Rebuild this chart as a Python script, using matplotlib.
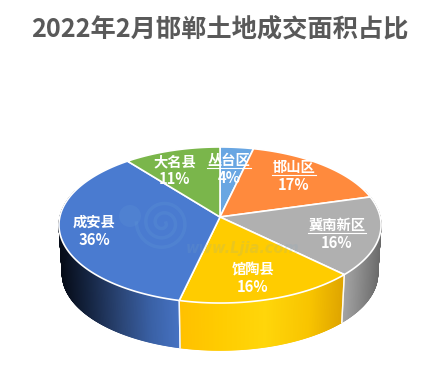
import numpy as np
import matplotlib
matplotlib.use('Agg')
import matplotlib.pyplot as plt
from matplotlib.collections import PolyCollection
from matplotlib.colors import to_rgb
from matplotlib.patches import Polygon

plt.rcParams['font.family'] = ['Noto Sans CJK SC', 'DejaVu Sans']

TITLE = '2022年2月邯郸土地成交面积占比'
categories = ['丛台区', '邯山区', '冀南新区', '馆陶县', '成安县', '大名县']
values = [3.7, 17.0, 16.49, 16.49, 35.6, 10.72]
top_colors = ['#69A6E2', '#FF8A3D', '#B0B0B0', '#FFCC00', '#4A7BD0', '#7AB64B']
# side shading: horizontal colour stops (pixel x, colour)
side_stops = [
    [(220, '#3A6A9A'), (253, '#3A6A9A')],
    [(253, '#A85A20'), (368, '#A85A20')],
    [(343, '#A6A6A6'), (360, '#8C8C8C'), (381, '#6A6A6A')],
    [(178, '#FFC000'), (220, '#FFCC00'), (265, '#FFD60A'), (310, '#F8C400'), (343, '#DFA500')],
    [(59, '#060C18'), (85, '#14233F'), (120, '#2B4677'), (150, '#3A61A6'), (178, '#4672C2')],
    [(128, '#4A7030'), (220, '#4A7030')],
]
label_pos = [(229, 161), (294, 168), (337, 226), (253, 270), (94, 223), (175, 162)]
underlined = [True, True, True, False, False, False]

CX, CY, A, B, K = 220.0, 217.0, 160.2, 77.2, 0.1026
DEPTH, SHRINK = 49.0, 0.02


def project(theta, h=0.0, r=1.0):
    u, v = r * np.sin(theta), -r * np.cos(theta)
    d = 1 - K * v
    return CX + (1 - SHRINK * h) * A * u / d, CY + DEPTH * h + (1 - SHRINK * h) * B * v / d


fig = plt.figure(figsize=(4.42, 3.75), dpi=100, facecolor='white')
ax = fig.add_axes([0, 0, 1, 1])
ax.set_xlim(0, 442)
ax.set_ylim(375, 0)
ax.axis('off')

edges = np.radians(np.concatenate([[0], np.cumsum(values)]) * 3.6)

# side walls
for i in range(len(values)):
    th = np.linspace(edges[i], edges[i + 1], int(max(values[i] * 12, 30)) + 1)
    xs_top, ys_top = project(th)
    xs_bot, ys_bot = project(th, 1.0)
    stops = side_stops[i]
    sx = [s[0] for s in stops]
    rgb = np.array([to_rgb(s[1]) for s in stops])
    polys, cols = [], []
    for j in range(len(th) - 1):
        mid = 0.5 * (th[j] + th[j + 1])
        if -np.cos(mid) < -0.35:
            continue
        polys.append([(xs_top[j], ys_top[j]), (xs_top[j + 1], ys_top[j + 1]),
                      (xs_bot[j + 1], ys_bot[j + 1]), (xs_bot[j], ys_bot[j])])
        xm = 0.5 * (xs_top[j] + xs_top[j + 1])
        cols.append([np.interp(xm, sx, rgb[:, c]) for c in range(3)])
    if polys:
        ax.add_collection(PolyCollection(polys, facecolors=cols, edgecolors=cols, linewidths=0.6, zorder=2))
    # white seams on the visible wall
    for t in (edges[i], edges[i + 1]):
        if -np.cos(t) > 0.1:
            x0, y0 = project(t)
            x1, y1 = project(t, 1.0)
            ax.plot([x0, x1], [y0, y1], color='white', lw=1.0, alpha=0.8, zorder=3)

# top face
for i in range(len(values)):
    th = np.linspace(edges[i], edges[i + 1], 120)
    xs, ys = project(th)
    pts = np.column_stack([np.r_[CX, xs], np.r_[CY, ys]])
    ax.add_patch(Polygon(pts, closed=True, facecolor=top_colors[i], edgecolor='white', lw=1.2, zorder=4, joinstyle='round'))

# faint watermark
ax.text(243, 248, 'www.Ljia.com', color='#7FA8C0', alpha=0.16, fontsize=10.5, weight='bold', style='italic',
        ha='center', va='center', zorder=5, family='DejaVu Sans')
t = np.linspace(0, 5 * np.pi, 200)
ax.plot(163 + (3 + 1.5 * t) * np.cos(t), 223 + (3 + 1.5 * t) * np.sin(t), color='#6FA8DC', alpha=0.16, lw=2.5, zorder=5)
ax.add_patch(plt.Circle((130, 216), 11, color='#6FA8DC', alpha=0.14, zorder=5, lw=0))

# labels
for name, val, (x, y), ul in zip(categories, values, label_pos, underlined):
    ax.text(x, y, name, color='white', fontsize=10.3, weight='bold', ha='center', va='center', zorder=6)
    ax.text(x, y + 17, f'{round(val)}%', color='white', fontsize=10.6, weight='bold', ha='center', va='center', zorder=6)
    if ul:
        w = 7.2 * len(name)
        ax.plot([x - w, x + w], [y + 6.5, y + 6.5], color='white', lw=0.8, zorder=6)

ax.text(220, 29, TITLE, color='#595959', fontsize=18.2, weight='bold', ha='center', va='center', zorder=6)
fig.savefig('out.png', dpi=100, facecolor='white')
